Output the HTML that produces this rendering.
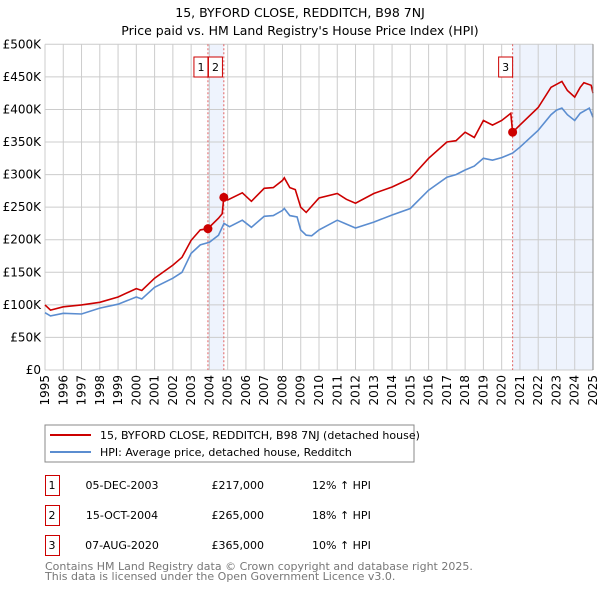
<!DOCTYPE html>
<html><head><meta charset="utf-8"><style>
body{margin:0;background:#fff;font-family:"DejaVu Sans","Liberation Sans",sans-serif;}
svg text{font-family:"DejaVu Sans","Liberation Sans",sans-serif;}
</style></head><body>
<svg id="chart" width="600" height="590" xmlns="http://www.w3.org/2000/svg">
<text x="300" y="17" text-anchor="middle" font-size="12.5">15, BYFORD CLOSE, REDDITCH, B98 7NJ</text>
<text x="300" y="35" text-anchor="middle" font-size="12.5">Price paid vs. HM Land Registry's House Price Index (HPI)</text>
<g id="plot"></g>
<rect x="45" y="425" width="369" height="37" fill="#fff" stroke="#888"/>
<line x1="50" y1="435" x2="91" y2="435" stroke="#cc0000" stroke-width="2"/>
<text x="100" y="439" font-size="11">15, BYFORD CLOSE, REDDITCH, B98 7NJ (detached house)</text>
<line x1="50" y1="452" x2="91" y2="452" stroke="#5b8dd0" stroke-width="2"/>
<text x="100" y="456" font-size="11">HPI: Average price, detached house, Redditch</text>
<g id="table" font-size="11"></g>
<text x="45" y="570" font-size="11" fill="#777">Contains HM Land Registry data © Crown copyright and database right 2025.</text>
<text x="45" y="580" font-size="11" fill="#777">This data is licensed under the Open Government Licence v3.0.</text>
</svg>
<script>
const hpiYears=[1995,1995.3,1996,1997,1998,1999,2000,2000.3,2001,2002,2002.5,2003,2003.5,2004,2004.5,2004.8,2005.1,2005.8,2006.3,2007,2007.5,2008,2008.1,2008.4,2008.8,2009,2009.3,2009.6,2010,2011,2011.5,2012,2013,2014,2015,2016,2017,2017.5,2018,2018.5,2019,2019.5,2020,2020.6,2021,2022,2022.7,2023,2023.3,2023.6,2024,2024.3,2024.8,2025];
const hpiValues=[88,83,87,86,95,101,112,109,127,141,150,179,192,196,207,225,220,230,219,236,237,245,248,237,235,215,207,206,215,230,224,218,227,238,248,276,296,300,307,313,325,322,326,333,342,368,392,399,402,392,383,394,402,388];
const redYears=[1995,1995.3,1996,1997,1998,1999,2000,2000.3,2001,2002,2002.5,2003,2003.5,2003.92,2004.5,2004.7,2004.79,2005,2005.8,2006.3,2007,2007.5,2008,2008.1,2008.4,2008.7,2009,2009.3,2010,2011,2011.5,2012,2013,2014,2015,2016,2017,2017.5,2018,2018.5,2019,2019.5,2020,2020.5,2020.6,2021,2022,2022.7,2023.3,2023.6,2024,2024.3,2024.5,2024.9,2025];
const redValues=[100,92,97,100,104,112,125,122,141,161,173,199,215,217,233,240,265,261,272,259,279,280,291,295,280,277,250,242,264,271,262,256,271,281,294,325,350,352,365,357,383,376,383,394,365,376,403,434,443,429,419,434,441,437,425];
const saleYears=[2003.92,2004.79,2020.6];
const saleValues=[217,265,365];
const saleLabels=["1","2","3"];
const saleDates=["05-DEC-2003","15-OCT-2004","07-AUG-2020"];
const salePrices=["£217,000","£265,000","£365,000"];
const saleHpi=["12% ↑ HPI","18% ↑ HPI","10% ↑ HPI"];
const yTicks=[0,50,100,150,200,250,300,350,400,450,500];
const yTickLabels=["£0","£50K","£100K","£150K","£200K","£250K","£300K","£350K","£400K","£450K","£500K"];
const xTicks=[1995,1996,1997,1998,1999,2000,2001,2002,2003,2004,2005,2006,2007,2008,2009,2010,2011,2012,2013,2014,2015,2016,2017,2018,2019,2020,2021,2022,2023,2024,2025];

const NS="http://www.w3.org/2000/svg";
const X0=45,X1=593,Y0=370,Y1=44.3;
const xs=y=>X0+(y-1995)/30*(X1-X0);
const ys=v=>Y0-v/500*(Y0-Y1);
const plot=document.getElementById('plot');
function mk(tag,attrs,parent){const e=document.createElementNS(NS,tag);for(const k in attrs)e.setAttribute(k,attrs[k]);(parent||plot).appendChild(e);return e;}

let s1=mk('rect',{x:xs(saleYears[0]),y:Y1,width:xs(saleYears[1])-xs(saleYears[0]),height:Y0-Y1,fill:'#eef3fd'});


let s2=mk('rect',{x:xs(saleYears[2]),y:Y1,width:X1-xs(saleYears[2]),height:Y0-Y1,fill:'#eef3fd'});



yTicks.forEach((t,i)=>{
  let g=mk('line',{x1:X0,x2:X1,y1:ys(t),y2:ys(t),stroke:'#ccc'});
  
  
  let l=mk('text',{x:X0-4,y:ys(t)+4,'text-anchor':'end','font-size':'12'});
  l.textContent=yTickLabels[i];
  
  
});
xTicks.forEach(t=>{
  let g=mk('line',{x1:xs(t),x2:xs(t),y1:Y1,y2:Y0,stroke:'#ccc'});
  
  
  let l=mk('text',{x:0,y:0,'text-anchor':'end','font-size':'12',transform:`translate(${xs(t)+4},${Y0+5}) rotate(-90)`});
  l.textContent=t;
  
  
});
saleYears.forEach((y,i)=>{
  let v=mk('line',{x1:xs(y),x2:xs(y),y1:Y1,y2:Y0,stroke:'#e06060','stroke-dasharray':'2,2'});
  
  
});
function line(xa,va,color,name){
  let d=xa.map((y,i)=>(i?'L':'M')+xs(y).toFixed(1)+','+ys(va[i]).toFixed(1)).join('');
  let p=mk('path',{d:d,fill:'none',stroke:color,'stroke-width':'1.6'});
  
  
}
line(hpiYears,hpiValues,'#5b8dd0','hpi-line');
line(redYears,redValues,'#cc0000','price-paid-line');
saleYears.forEach((y,i)=>{
  let c=mk('circle',{cx:xs(y),cy:ys(saleValues[i]),r:4.5,fill:'#cc0000'});
  
  
  let bx=i==0?xs(y)-14:(i==1?xs(y)-7:xs(y)-14);
  if(i==1)bx=xs(saleYears[0])+0.5;
  let r=mk('rect',{x:bx,y:57,width:14,height:20,fill:'#fff',stroke:'#cc0000'});
  
  
  let t=mk('text',{x:bx+7,y:71,'text-anchor':'middle','font-size':'11'});
  t.textContent=saleLabels[i];
  
  
});
let ax=mk('line',{x1:X1,x2:X1,y1:Y1,y2:Y0,stroke:'#888'});



const tb=document.getElementById('table');
saleLabels.forEach((lab,i)=>{
  const yy=475+i*30;
  let r=mk('rect',{x:45.5,y:yy+0.5,width:14,height:20,fill:'#fff',stroke:'#cc0000'},tb);
  
  
  const cells=[[52,lab,'middle','badge-number'],[122,saleDates[i],'middle','sale-date'],[264,salePrices[i],'end','sale-price'],[312,saleHpi[i],'start','hpi-change']];
  cells.forEach(c=>{
    let t=mk('text',{x:c[0],y:yy+14,'text-anchor':c[2]},tb);
    t.textContent=c[1];
    
    
  });
});
</script>
</body></html>
